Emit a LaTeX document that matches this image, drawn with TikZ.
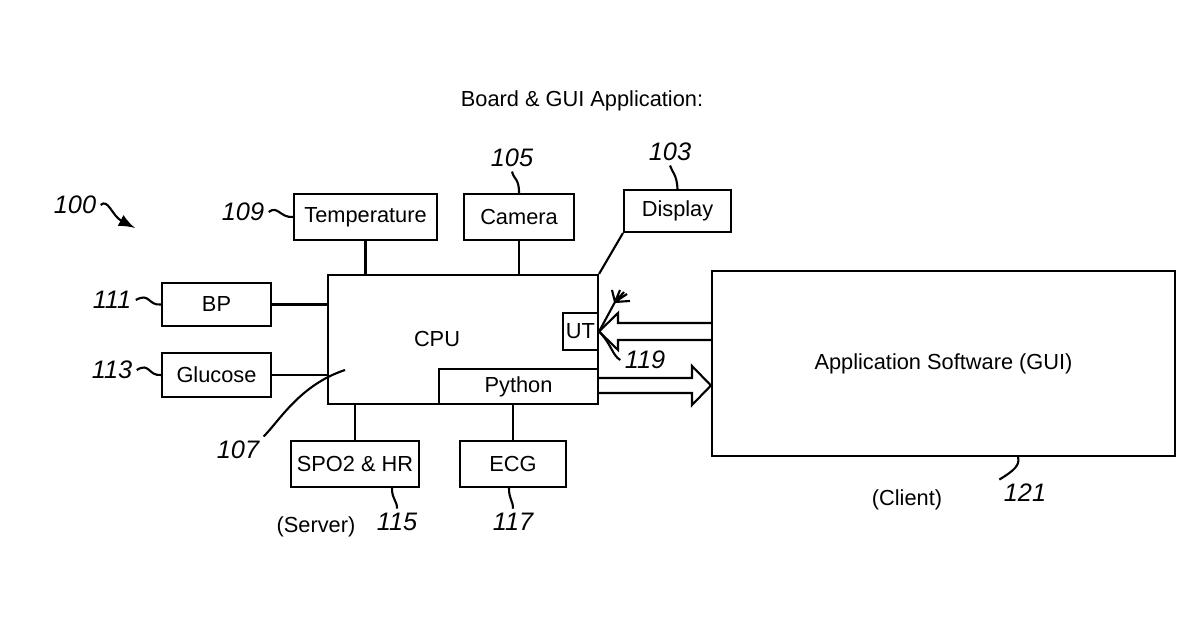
\documentclass[tikz,border=0pt]{standalone}
\usepackage{fontspec}
\setmainfont{Liberation Sans}
\usetikzlibrary{arrows, positioning}
\tikzset{
  blk/.style={draw, semithick, inner sep=0pt, font=\fontsize{6.2}{8}\selectfont},
  ref/.style={inner sep=1pt, font=\fontsize{7.2}{8}\itshape},
  txt/.style={font=\fontsize{6.2}{8}\selectfont},
  hollow/.style={draw, semithick, fill=white}
}
\begin{document}
\begin{tikzpicture}[x=0.1mm, y=-0.1mm, semithick]
      \useasboundingbox (0,0) rectangle (1200,630);

      % Title
      \node[txt] (title) at (582,101) {Board \& GUI Application:};

      % Main blocks
      \node[blk, minimum width=27mm, minimum height=12.9mm] (cpu) at (463,339.5) {};
      \node[txt] (cpulbl) at (437,339) {CPU};
      \node[blk, minimum width=15.9mm, minimum height=3.5mm] (python) at (518.5,386.5) {Python};
      \node[blk, minimum width=3.5mm, minimum height=3.7mm] (ut) at (580.5,331.5) {UT};
      \node[blk, minimum width=46.3mm, minimum height=18.5mm] (app) at (943.5,363.5) {Application Software (GUI)};

      % Peripherals
      \node[blk, minimum width=14.3mm, minimum height=4.6mm] (temp) at (365.5,217) {Temperature};
      \node[blk, minimum width=11mm, minimum height=4.6mm] (cam) at (519,217) {Camera};
      \node[blk, minimum width=10.7mm, minimum height=4.2mm] (disp) at (677.5,211) {Display};
      \node[blk, minimum width=10.9mm, minimum height=4.3mm] (bp) at (216.5,304.5) {BP};
      \node[blk, minimum width=10.9mm, minimum height=4.4mm] (gluc) at (216.5,375) {Glucose};
      \node[blk, minimum width=12.8mm, minimum height=4.6mm] (spo) at (355,464) {SPO2 \& HR};
      \node[blk, minimum width=10.6mm, minimum height=4.6mm] (ecg) at (513,464) {ECG};

      % Connections
      \draw (temp.south) -- (temp.south |- cpu.north);
      \draw (cam.south) -- (cam.south |- cpu.north);
      \draw (bp.east) -- (bp.east -| cpu.west);
      \draw (gluc.east) -- (gluc.east -| cpu.west);
      \draw (spo.north) -- (spo.north |- cpu.south);
      \draw (ecg.north) -- (ecg.north |- cpu.south);
      \draw (cpu.north east) -- (disp.south west);

      % Data paths
      \draw[hollow] (app.west |- 0,323) -- (618,323) -- (618,313) -- (ut.east) -- (618,350) -- (618,340) -- (app.west |- 0,340);
      \draw[hollow] (python.east |- 0,378) -- (692,378) -- (692,366) -- (app.west |- 0,385.5) -- (692,405) -- (692,393) -- (python.east |- 0,393);

      % Reference numerals
      \node[ref] (r100) at (75,205) {100};
      \coordinate (a100) at (135,228);
      \draw[-latex] (r100.east) .. controls (108,198) and (112,216) .. (a100);
      \node[ref] (r109) at (243,212) {109};
      \draw (r109.east) .. controls (278,205) and (280,218) .. (temp.west);
      \node[ref] (r105) at (512,158) {105};
      \draw (r105.south) .. controls (514,180) and (519,178) .. (cam.north);
      \node[ref] (r103) at (670,152) {103};
      \draw (r103.south) .. controls (672,172) and (677,175) .. (disp.north);
      \node[ref] (r111) at (112,300) {111};
      \draw (r111.east) .. controls (150,292) and (148,306) .. (bp.west);
      \node[ref] (r113) at (112,370) {113};
      \draw (r113.east) .. controls (150,362) and (148,376) .. (gluc.west);
      \node[ref] (r107) at (238,450) {107};
      \coordinate (p107) at (345,370);
      \draw (r107.north east) .. controls (280,420) and (300,385) .. (p107);
      \node[ref] (r115) at (397,522) {115};
      \draw (r115.north) .. controls (397,500) and (392,500) .. (spo.south -| 392,0);
      \node[ref] (r117) at (513,522) {117};
      \draw (r117.north) .. controls (513,500) and (509,500) .. (ecg.south -| 509,0);
      \node[ref] (r119) at (645,360) {119};
      \draw (r119.west) .. controls (612,355) and (612,345) .. (ut.east);
      \draw (ut.east) -- (615,302) -- (612,290) (615,302) -- (620,290) (615,302) -- (627,294) (615,302) -- (630,301) (615,302) -- (624,292);
      \node[ref] (r121) at (1025,493) {121};
      \draw (r121.north west) .. controls (1015,470) and (1020,465) .. (app.south -| 1018,0);

      % Side labels
      \node[txt] (server) at (316,527) {(Server)};
      \node[txt] (client) at (907,500) {(Client)};
\end{tikzpicture}
\end{document}
